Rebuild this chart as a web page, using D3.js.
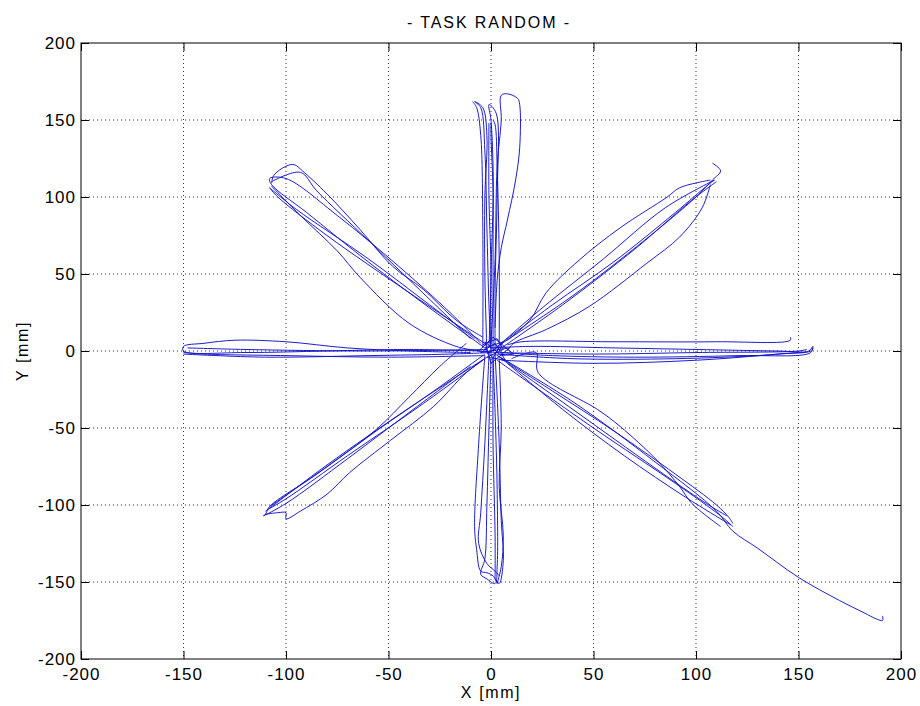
<!DOCTYPE html>
<html>
<head>
<meta charset="utf-8">
<script src="https://cdn.jsdelivr.net/npm/d3@7"></script>
<style>
  body { margin: 0; background: #fff; }
  svg text { font-family: "Liberation Sans", Arial, sans-serif; fill: #000; }
</style>
</head>
<body>
<div id="chart"></div>
<script>
// 軸・目盛り--------------------------------------------------------------------------------
const xTicks = [-200, -150, -100, -50, 0, 50, 100, 150, 200];
const yTicks = [-200, -150, -100, -50, 0, 50, 100, 150, 200];
const title = '- TASK RANDOM -';
const xLabel = 'X [mm]';
const yLabel = 'Y [mm]';

// 軌跡データ（mm）: 方向ごとの往復動作------------------------------------------------------
const rightMoves = [
  [[0, 2], [20, 3], [60, 2], [100, 1], [140, 0], [155, 0], [157, 3], [156, -1], [120, -3], [70, -4], [30, -3], [5, -1]],
  [[3, -2], [40, -5], [90, -5], [130, -3], [150, -1], [153, -1]],
  [[8, 4], [15, 6], [60, 6], [110, 6], [146, 7], [146, 9]],
  [[5, -6], [50, -8], [100, -6], [140, -2], [156, 0], [157, 2]],
  [[2, -1], [50, -2], [100, -1], [150, 0], [154, 1]]
];
const leftMoves = [
  [[-5, 0], [-40, 1], [-80, 0], [-120, -1], [-150, 0], [-150, 3], [-140, 5], [-125, 7], [-100, 6], [-70, 2], [-40, 0], [-10, -1]],
  [[-3, -3], [-50, -4], [-100, -3], [-140, -2], [-150, -1]],
  [[-150, -2], [-110, -4], [-60, -3], [-20, -2], [0, -1]],
  [[-2, 1], [-60, 0], [-120, 1], [-148, 2]]
];
const upLeftMoves = [
  [[-3, 2], [-30, 28], [-60, 58], [-90, 90], [-107, 108], [-108, 112], [-100, 112], [-75, 88], [-45, 55], [-20, 25], [-5, 5]],
  [[-2, 4], [-40, 38], [-80, 75], [-104, 100], [-108, 106]],
  [[-108, 106], [-95, 92], [-60, 60], [-30, 30], [-8, 8]],
  [[-107, 109], [-106, 114], [-100, 120], [-96, 121], [-92, 117], [-80, 102], [-64, 79], [-48, 55], [-33, 40], [-17, 20], [-4, 9]],
  [[-107, 110], [-93, 116], [-85, 104], [-60, 72], [-35, 40], [-10, 8]],
  [[-107, 107], [-93, 88], [-75, 65], [-64, 48], [-40, 18], [-17, 3], [-5, 0]]
];
const upRightMoves = [
  [[3, 3], [30, 30], [60, 58], [90, 90], [106, 108], [109, 111]],
  [[109, 111], [85, 93], [55, 60], [25, 28], [5, 5]],
  [[2, 2], [40, 36], [75, 72], [100, 100], [108, 111], [112, 117], [108, 122]],
  [[107, 111], [92, 106], [86, 100], [63, 80], [43, 59], [27, 38], [19, 20], [8, 7]],
  [[8, 0], [11, 5], [27, 14], [48, 29], [76, 57], [92, 74], [103, 93], [107, 108]],
  [[4, 1], [35, 30], [70, 66], [98, 98], [110, 110]]
];
const upMoves = [
  [[-2, 0], [-3, 50], [-3, 100], [-2, 140], [-4, 158], [-8, 162], [-5, 158], [-3, 130], [-2, 80], [-1, 30], [0, 0]],
  [[1, 0], [1, 60], [1, 120], [0, 150], [-1, 160], [1, 158], [3, 152], [3, 100], [2, 40], [2, 0]],
  [[4, 5], [4, 60], [3, 120], [2, 147], [1, 150]],
  [[0, 5], [2, 60], [3, 120], [5, 150], [5, 166], [8, 167], [13, 164], [14, 160], [14, 132], [12, 111], [8, 85], [5, 67], [3, 46], [2, 15]],
  [[-4, 2], [-4, 80], [-5, 140], [-7, 158], [-9, 162]],
  [[0, -3], [0, 50], [1, 100], [0, 140], [0, 148]],
  [[-1, 148], [-1, 100], [0, 50], [-1, 2]]
];
const downMoves = [
  [[0, -5], [-1, -50], [-2, -100], [-3, -135], [-5, -145], [-2, -148], [2, -151], [3, -140], [3, -90], [2, -40], [1, -5]],
  [[-3, -3], [-6, -60], [-8, -114], [-7, -129], [-5, -143], [-2, -144], [1, -146], [3, -151]],
  [[2, -2], [4, -60], [5, -110], [6, -136], [4, -151], [2, -148]],
  [[4, -5], [5, -50], [4, -88], [6, -120], [5, -140], [3, -151]],
  [[-1, -3], [-3, -60], [-5, -105], [-6, -125], [-2, -138], [2, -143], [4, -146]],
  [[1, -2], [1, -60], [2, -120], [2, -148]]
];
const downLeftMoves = [
  [[-3, -2], [-30, -28], [-55, -51], [-85, -80], [-108, -101], [-110, -106], [-111, -107], [-100, -99], [-70, -70], [-40, -40], [-10, -10]],
  [[-2, -4], [-40, -37], [-80, -74], [-106, -100], [-110, -104]],
  [[-110, -106], [-104, -105], [-100, -105], [-100, -109], [-93, -104], [-80, -93], [-69, -79], [-49, -58], [-28, -36], [-12, -14], [-3, -5]],
  [[-12, 5], [-25, -10], [-40, -30], [-56, -51], [-80, -75], [-108, -101]],
  [[-4, -6], [-35, -36], [-70, -68], [-100, -96], [-109, -103]]
];
const downRightMoves = [
  [[3, -3], [30, -26], [60, -52], [90, -80], [110, -100], [116, -108], [118, -112]],
  [[117, -113], [95, -95], [65, -68], [35, -38], [8, -8]],
  [[5, -5], [40, -38], [80, -76], [105, -99], [115, -107]],
  [[10, -5], [22, -1], [23, -14], [52, -38], [63, -49], [81, -71], [92, -88], [98, -99], [112, -114]],
  [[2, -2], [40, -33], [80, -72], [110, -104], [118, -117], [130, -128], [150, -147], [170, -162], [182, -170], [188, -174], [191, -175], [191, -172]],
  [[3, -6], [50, -50], [90, -86], [112, -107], [118, -114]]
];
const centerMoves = [
  [[-4, 4], [3, 8], [6, 1], [-2, -4], [7, -6], [2, 5], [-5, -1], [9, 2], [0, -8], [-3, 6], [5, -3], [11, -2], [1, 9], [-6, 0], [3, -1]],
  [[-2, -2], [4, 3], [1, -5], [-3, 2], [6, 6], [2, -2]]
];

const allMoves = [].concat(rightMoves, leftMoves, upLeftMoves, upRightMoves,
  upMoves, downMoves, downLeftMoves, downRightMoves);

// SVG領域作成-------------------------------------------------------------------------------
const width = 920;
const height = 706;
const margin = {top: 43, right: 19, bottom: 47, left: 81};
const innerW = width - margin.left - margin.right;
const innerH = height - margin.top - margin.bottom;
const lineColor = '#1212c8';

const svg = d3.select('#chart').append('svg')
  .attr('width', width)
  .attr('height', height);

const x = d3.scaleLinear().domain([-200, 200]).range([0, innerW]);
const y = d3.scaleLinear().domain([-200, 200]).range([innerH, 0]);

const g = svg.append('g')
  .attr('transform', 'translate(' + margin.left + ',' + margin.top + ')');

// グリッド-----------------------------------------------------------------------------------
g.append('g').selectAll('line')
  .data(xTicks.slice(1, -1))
  .enter().append('line')
  .attr('x1', d => x(d)).attr('x2', d => x(d))
  .attr('y1', 0).attr('y2', innerH)
  .attr('stroke', '#333').attr('stroke-width', 1)
  .attr('stroke-dasharray', '1,3');
g.append('g').selectAll('line')
  .data(yTicks.slice(1, -1))
  .enter().append('line')
  .attr('y1', d => y(d)).attr('y2', d => y(d))
  .attr('x1', 0).attr('x2', innerW)
  .attr('stroke', '#333').attr('stroke-width', 1)
  .attr('stroke-dasharray', '1,3');

// 軌跡---------------------------------------------------------------------------------------
svg.append('clipPath').attr('id', 'plot-clip')
  .append('rect').attr('width', innerW).attr('height', innerH);

const line = d3.line()
  .x(d => x(d[0]))
  .y(d => y(d[1]))
  .curve(d3.curveCatmullRom.alpha(0.5));

const plot = g.append('g').attr('clip-path', 'url(#plot-clip)');
plot.selectAll('path.move')
  .data(allMoves)
  .enter().append('path')
  .attr('class', 'move')
  .attr('d', line)
  .attr('fill', 'none')
  .attr('stroke', lineColor)
  .attr('stroke-width', 0.95)
  .attr('stroke-linejoin', 'round');
// 中心付近の細かい動き（直線でつなぐ）
plot.selectAll('path.center')
  .data(centerMoves)
  .enter().append('path')
  .attr('class', 'center')
  .attr('d', line.curve(d3.curveLinear))
  .attr('fill', 'none')
  .attr('stroke', lineColor)
  .attr('stroke-width', 0.95);

// 軸（内向き目盛り、四辺）-------------------------------------------------------------------
const tickLen = 8;
const axisBottom = d3.axisBottom(x).tickValues(xTicks).tickSize(-tickLen).tickPadding(9).tickFormat(d => String(d));
const axisTop = d3.axisTop(x).tickValues(xTicks).tickSize(-tickLen).tickFormat('');
const axisLeft = d3.axisLeft(y).tickValues(yTicks).tickSize(-tickLen).tickPadding(5).tickFormat(d => String(d));
const axisRight = d3.axisRight(y).tickValues(yTicks).tickSize(-tickLen).tickFormat('');

const styleAxis = sel => {
  sel.select('.domain').remove();
  sel.selectAll('line').attr('stroke', '#000');
  sel.selectAll('text')
    .style('font-family', '"Liberation Sans", Arial, sans-serif')
    .style('font-size', '17px')
    .style('letter-spacing', '1px')
    .attr('fill', '#000');
};
g.append('g').attr('transform', 'translate(0,' + innerH + ')').call(axisBottom).call(styleAxis);
g.append('g').call(axisTop).call(styleAxis);
g.append('g').call(axisLeft).call(styleAxis);
g.append('g').attr('transform', 'translate(' + innerW + ',0)').call(axisRight).call(styleAxis);

g.append('rect')
  .attr('width', innerW).attr('height', innerH)
  .attr('fill', 'none').attr('stroke', '#000').attr('stroke-width', 1);

// タイトル・軸ラベル-------------------------------------------------------------------------
svg.append('text')
  .attr('x', margin.left + innerW / 2 - 2).attr('y', 28)
  .attr('text-anchor', 'middle').attr('font-size', '16px')
  .style('letter-spacing', '1.9px')
  .text(title);
svg.append('text')
  .attr('x', margin.left + innerW / 2).attr('y', 698)
  .attr('text-anchor', 'middle').attr('font-size', '16px')
  .style('letter-spacing', '1.6px')
  .text(xLabel);
svg.append('text')
  .attr('transform', 'translate(28,' + (margin.top + innerH / 2) + ') rotate(-90)')
  .attr('text-anchor', 'middle').attr('font-size', '16px')
  .style('letter-spacing', '1.6px')
  .text(yLabel);
</script>
</body>
</html>
